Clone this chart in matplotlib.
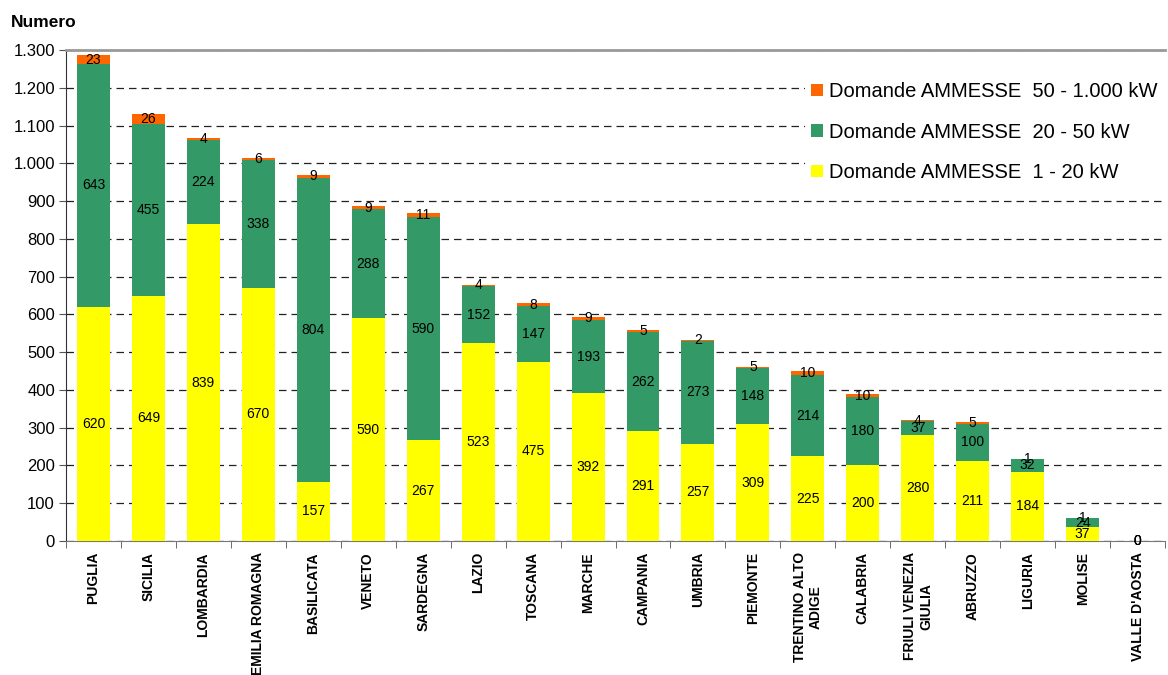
import matplotlib.pyplot as plt
import numpy as np

plt.rcParams['font.family'] = ['Liberation Sans', 'DejaVu Sans']

regioni = ['PUGLIA', 'SICILIA', 'LOMBARDIA', 'EMILIA ROMAGNA', 'BASILICATA',
           'VENETO', 'SARDEGNA', 'LAZIO', 'TOSCANA', 'MARCHE', 'CAMPANIA',
           'UMBRIA', 'PIEMONTE', 'TRENTINO ALTO\nADIGE', 'CALABRIA',
           'FRIULI VENEZIA\nGIULIA', 'ABRUZZO', 'LIGURIA', 'MOLISE',
           "VALLE D'AOSTA"]
kw_1_20 = [620, 649, 839, 670, 157, 590, 267, 523, 475, 392, 291, 257, 309,
           225, 200, 280, 211, 184, 37, 0]
kw_20_50 = [643, 455, 224, 338, 804, 288, 590, 152, 147, 193, 262, 273, 148,
            214, 180, 37, 100, 32, 24, 0]
kw_50_1000 = [23, 26, 4, 6, 9, 9, 11, 4, 8, 9, 5, 2, 5, 10, 10, 4, 5, 1, 1, 0]

def fmt(v):
    return f'{v:,}'.replace(',', '.')

fig = plt.figure(figsize=(11.68, 6.75), dpi=100)
ax = fig.add_axes([0.0565, 0.1985, 0.941, 0.7274])

x = np.arange(len(regioni))
w = 0.6
y1 = np.array(kw_1_20)
y2 = np.array(kw_20_50)
y3 = np.array(kw_50_1000)

b1 = ax.bar(x, y1, w, color='#FFFF00', label='Domande AMMESSE  1 - 20 kW', zorder=3)
b2 = ax.bar(x, y2, w, bottom=y1, color='#339966', label='Domande AMMESSE  20 - 50 kW', zorder=3)
b3 = ax.bar(x, y3, w, bottom=y1 + y2, color='#FF6600', label='Domande AMMESSE  50 - 1.000 kW', zorder=3)

for vals, bot in [(y1, 0 * y1), (y2, y1), (y3, y1 + y2)]:
    for xi, v, b in zip(x, vals, bot):
        ax.text(xi, b + v / 2, str(v), ha='center', va='center', fontsize=10,
                color='black', zorder=5)

ax.set_xlim(-0.5, len(regioni) - 0.5)
ax.set_ylim(0, 1300)
ax.set_yticks(np.arange(0, 1301, 100))
ax.set_yticklabels([fmt(v) for v in range(0, 1301, 100)], fontsize=12)
ax.yaxis.grid(True, linestyle=(0, (6, 4)), color='#222222', linewidth=0.9, zorder=0)

ax.set_xticks(x)
ax.set_xticklabels(regioni, rotation=90, fontsize=10, fontweight='bold',
                   va='top', ha='center', multialignment='center')
ax.tick_params(axis='x', which='major', length=0, pad=8)
ax.set_xticks(np.arange(-0.5, len(regioni), 1), minor=True)
ax.tick_params(axis='x', which='minor', length=5, direction='out', color='#555555')
ax.tick_params(axis='y', length=5, direction='out', color='#555555', pad=3)

ax.spines['right'].set_visible(False)
ax.spines['top'].set_color('#999999')
ax.spines['top'].set_linewidth(2)
ax.spines['left'].set_color('#333333')
ax.spines['bottom'].set_color('#777777')

handles = [b3, b2, b1]
leg = ax.legend(handles, [h.get_label() for h in handles], loc='upper right',
                bbox_to_anchor=(0.999, 0.947), frameon=True, fontsize=14.5,
                handlelength=0.6, handleheight=0.6, handletextpad=0.3,
                labelspacing=1.07, borderpad=0.3, borderaxespad=0.0)
leg.get_frame().set_edgecolor('none')
leg.get_frame().set_facecolor('white')
leg.get_frame().set_alpha(1)
leg.set_zorder(6)

fig.text(0.009, 0.967, 'Numero', fontsize=12.5, fontweight='bold', ha='left', va='center')

fig.savefig('out.png', dpi=100)
